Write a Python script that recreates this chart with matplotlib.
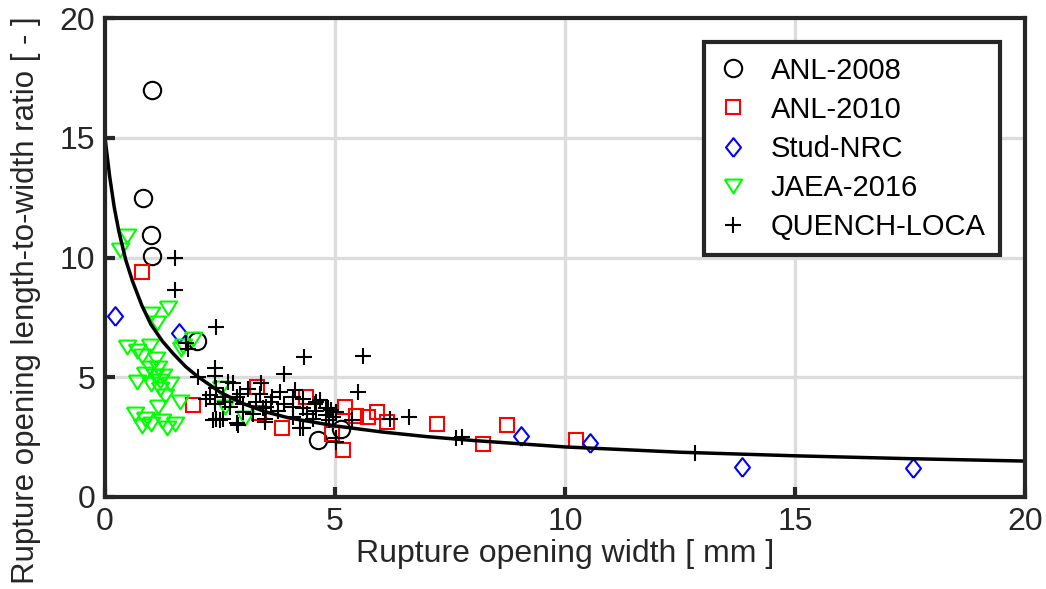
import matplotlib
matplotlib.use("Agg")
import matplotlib.pyplot as plt

plt.rcParams['font.family'] = ['Liberation Sans', 'DejaVu Sans']

# ANL-2008 (circles)
anl2008_x = [1.02, 0.82, 1.01, 1.02, 1.99, 4.63, 5.12]
anl2008_y = [17.0, 12.48, 10.96, 10.06, 6.5, 2.4, 2.85]

# ANL-2010 (squares)
anl2010_x = [0.80, 1.92, 3.30, 3.35, 3.84, 4.38, 4.93, 5.18, 5.22, 5.45, 5.72, 5.92, 6.12,
             7.22, 8.22, 8.73, 10.24]
anl2010_y = [9.4, 3.85, 4.58, 3.5, 2.88, 4.16, 2.65, 1.95, 3.74, 3.4, 3.35, 3.56, 3.12,
             3.05, 2.22, 3.0, 2.37]

# Stud-NRC (diamonds)
stud_x = [0.22, 1.61, 9.04, 10.54, 13.84, 17.56]
stud_y = [7.54, 6.86, 2.53, 2.27, 1.27, 1.23]

# JAEA-2016 (down triangles)
jaea_x = [0.33, 0.47, 1.01, 1.12, 1.37, 1.91, 1.69, 0.47, 0.69, 0.98, 0.80, 1.66, 0.98, 1.16,
          0.87, 1.08, 1.26, 0.69, 1.01, 1.19, 1.41, 1.30, 1.63, 1.16, 0.65, 0.87, 1.01, 1.23,
          1.34, 1.52, 0.80, 2.53, 2.60, 3.04, 1.10, 1.20]
jaea_y = [10.33, 10.89, 7.65, 7.25, 7.9, 6.6, 6.3, 6.25, 6.1, 6.3, 5.9, 6.2, 5.4, 5.4,
          5.15, 5.05, 5.05, 4.8, 4.72, 4.5, 4.72, 4.22, 3.95, 3.75, 3.45, 3.25, 3.05, 3.18,
          2.9, 3.05, 2.95, 4.57, 3.75, 3.3, 5.75, 4.85]

# QUENCH-LOCA (plus)
quench_x = [1.52, 1.52, 2.42, 1.77, 1.80, 4.32, 5.60, 3.90, 5.51, 2.39, 2.02, 6.61, 6.20,
            7.63, 7.77, 5.38, 5.03, 12.82,
            2.39, 2.42, 2.28, 2.78, 2.56, 2.86, 3.11, 2.39, 2.71, 3.00, 3.29, 2.42, 2.56,
            2.86, 3.21, 3.43, 2.93, 3.36, 2.67,
            3.62, 4.08, 3.51, 3.76, 4.08, 4.30, 4.59, 4.80, 5.02, 3.47, 4.08, 4.52, 4.88,
            4.24, 3.90, 4.67, 4.30,
            3.40, 2.35, 2.50, 2.89, 3.47, 4.12, 4.56, 4.84, 4.95, 4.30, 5.02, 4.59, 4.92,
            4.81, 2.20, 3.60, 3.00, 2.60, 4.40, 3.80]
quench_y = [10.0, 8.65, 7.1, 6.45, 6.2, 5.83, 5.9, 5.15, 4.38, 5.4, 5.0, 3.33, 3.25,
            2.45, 2.52, 3.2, 2.3, 1.82,
            5.05, 4.57, 4.25, 4.75, 4.17, 4.17, 4.52, 3.9, 3.75, 3.9, 3.96, 3.27, 3.27,
            3.08, 3.48, 3.7, 4.32, 4.32, 4.8,
            4.17, 4.17, 3.75, 3.61, 3.75, 3.7, 3.61, 3.7, 3.55, 3.27, 3.33, 3.27, 3.2,
            2.87, 3.9, 4.03, 4.11,
            4.74, 3.2, 3.2, 3.0, 3.13, 4.45, 3.9, 3.7, 3.33, 2.9, 2.45, 3.96, 3.62,
            3.41, 4.1, 3.95, 3.55, 3.95, 3.45, 4.4]

# fitted curve
fit_x = [0, 0.1, 0.2, 0.3, 0.45, 0.6, 0.8, 1.0, 1.25, 1.5, 1.75, 2.0, 2.5, 3.0, 3.5, 4.0,
         5.0, 6.0, 7.0, 8.0, 10.0, 12.5, 15.0, 17.5, 20.0]
fit_y = [15.0, 13.4, 12.1, 11.1, 9.9, 9.0, 8.0, 7.2, 6.5, 5.95, 5.45, 5.05, 4.38, 3.9,
         3.55, 3.3, 2.97, 2.72, 2.52, 2.36, 2.09, 1.87, 1.72, 1.6, 1.5]

dark = '#262626'
tri = [(-1, 0.8), (1, 0.8), (0, -0.8), (-1, 0.8)]
dia = [(0, -1), (0.8, 0), (0, 1), (-0.8, 0), (0, -1)]

fig = plt.figure(figsize=(10.46, 5.89), dpi=100)
ax = fig.add_axes([0.1004, 0.1562, 0.8795, 0.8132])

ax.plot(anl2008_x, anl2008_y, 'o', ls='none', mfc='none', mec='black', ms=12.5, mew=1.5,
        label='ANL-2008')
ax.plot(anl2010_x, anl2010_y, 's', ls='none', mfc='none', mec='#FF0000', ms=9.5, mew=1.5,
        label='ANL-2010')
ax.plot(stud_x, stud_y, marker=dia, ls='none', mfc='none', mec='#0000FF', ms=13.5, mew=1.5,
        label='Stud-NRC')
ax.plot(jaea_x, jaea_y, marker=tri, ls='none', mfc='none', mec='#00FF00', ms=12.5, mew=1.5,
        label='JAEA-2016')
ax.plot(quench_x, quench_y, '+', ls='none', color='black', ms=11, mew=1.5,
        label='QUENCH-LOCA')
ax.plot(fit_x, fit_y, '-', color='black', lw=2.5)

ax.set_xlim(0, 20)
ax.set_ylim(0, 20)
ax.set_xticks([0, 5, 10, 15, 20])
ax.set_yticks([0, 5, 10, 15, 20])
ax.grid(True, color='#dcdcdc', lw=2.4)
ax.set_axisbelow(True)
for s in ax.spines.values():
    s.set_linewidth(3)
    s.set_color(dark)
ax.tick_params(direction='in', length=7, width=3, color=dark, labelsize=23,
               labelcolor=dark, pad=7)
ax.set_xlabel('Rupture opening width [ mm ]', fontsize=23, color=dark, labelpad=2)
ax.set_ylabel('Rupture opening length-to-width ratio [ - ]', fontsize=22.5, color=dark)
ax.yaxis.set_label_coords(-0.07, 0.41)

leg = ax.legend(loc='upper right', bbox_to_anchor=(0.973, 0.95), borderaxespad=0,
                fontsize=21, fancybox=False, framealpha=1, edgecolor=dark,
                handletextpad=0.8, labelspacing=0.38, borderpad=0.5, handlelength=1.0)
leg.get_frame().set_linewidth(3)

fig.savefig('out.png', dpi=100)
